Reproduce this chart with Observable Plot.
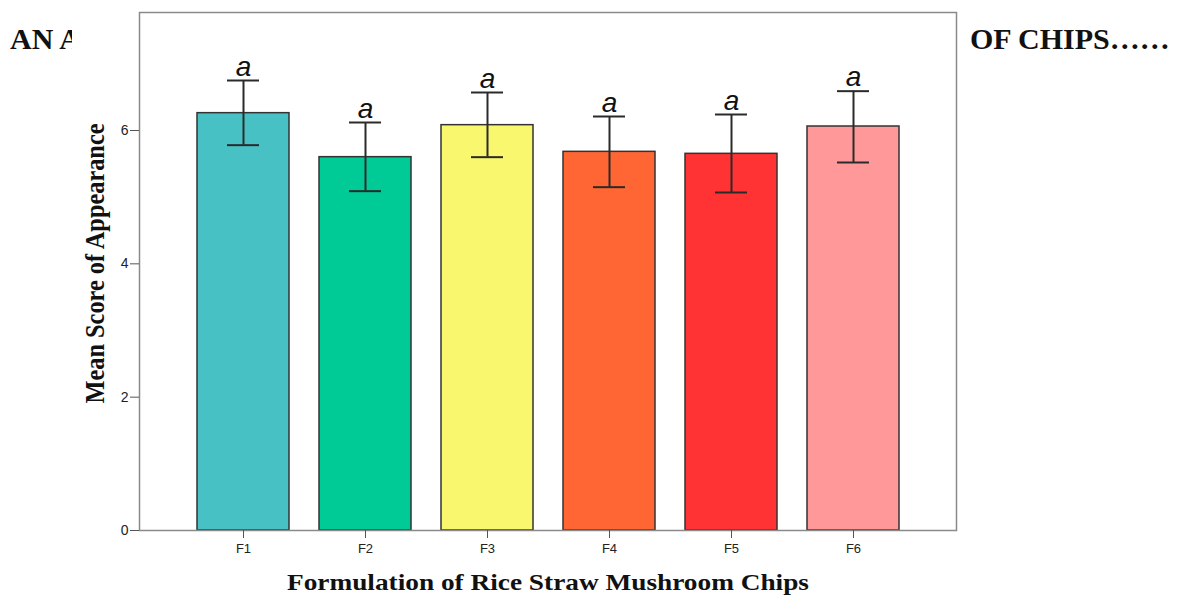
<!DOCTYPE html>
<html>
<head>
<meta charset="utf-8">
<script src="https://cdn.jsdelivr.net/npm/d3@7"></script>
<script src="https://cdn.jsdelivr.net/npm/@observablehq/plot@0.6"></script>
<style>
  html, body { margin: 0; padding: 0; background: #fff; }
  body { width: 1181px; height: 596px; position: relative; overflow: hidden; }
  .hdr { position: absolute; font-family: "Liberation Serif", "Times New Roman", serif; font-weight: bold;
         font-size: 30px; line-height: 30px; color: #111; white-space: nowrap; }
  #hdrLeft { width: 62px; overflow: hidden; }
  #chart { position: absolute; left: 72px; top: 0; background: #fff; }
</style>
</head>
<body>
<div class="hdr" id="hdrLeft" style="left:10px; top:24px;">AN A</div>
<div class="hdr" style="left:970px; top:24px;">OF CHIPS……</div>
<div id="chart"></div>
<script>
const formulations = ["F1", "F2", "F3", "F4", "F5", "F6"];
const means = [6.26, 5.60, 6.08, 5.68, 5.65, 6.06];
const lowerCI = [5.78, 5.09, 5.60, 5.15, 5.07, 5.52];
const upperCI = [6.75, 6.12, 6.57, 6.21, 6.24, 6.59];
const letters = ["a", "a", "a", "a", "a", "a"];
const barColors = ["#48C1C5", "#00CA96", "#F9F76E", "#FF6633", "#FF3333", "#FF9999"];
const yTicks = [0, 2, 4, 6];
const xTitle = "Formulation of Rice Straw Mushroom Chips";
const yTitle = "Mean Score of Appearance";

const data = formulations.map((f, i) => ({
  f, mean: means[i], lo: lowerCI[i], hi: upperCI[i], letter: letters[i]
}));

const serif = "Liberation Serif, Times New Roman, serif";
const sans = "Liberation Sans, Arial, sans-serif";

const chart = Plot.plot({
  width: 896,
  height: 596,
  marginLeft: 67,
  marginRight: 12,
  marginTop: 12,
  marginBottom: 66,
  x: { domain: formulations, paddingInner: 0.25, paddingOuter: 0.465, label: null },
  y: { domain: [0, 7.77], label: null },
  color: { domain: formulations, range: barColors },
  style: { background: "#fff", fontFamily: sans, color: "#222" },
  marks: [
    Plot.barY(data, { x: "f", y: "mean", fill: "f", stroke: "#333", strokeWidth: 1.5 }),
    Plot.ruleX(data, { x: "f", y1: "lo", y2: "hi", stroke: "#2a2a2a", strokeWidth: 2 }),
    Plot.tickY(data, { x: "f", y: "lo", stroke: "#2a2a2a", strokeWidth: 2, insetLeft: 30, insetRight: 30 }),
    Plot.tickY(data, { x: "f", y: "hi", stroke: "#2a2a2a", strokeWidth: 2, insetLeft: 30, insetRight: 30 }),
    Plot.text(data, { x: "f", y: "hi", text: "letter", lineAnchor: "bottom", dy: -5,
                      fontSize: 28, fontStyle: "italic", fill: "#111", fontFamily: sans }),
    Plot.frame({ stroke: "#8a8a8a", strokeWidth: 1.5 }),
    Plot.axisY({ ticks: yTicks, tickSize: 9, tickPadding: 2, fontSize: 14, label: null, stroke: "#555" }),
    Plot.axisX({ tickSize: 8, tickPadding: 5, fontSize: 13, label: null, stroke: "#555" }),
    Plot.text([xTitle], { frameAnchor: "bottom", lineAnchor: "bottom", dy: 59, fontSize: 24,
                          fontWeight: "bold", fontFamily: serif, fill: "#111" }),
    Plot.text([yTitle], { frameAnchor: "left", textAnchor: "middle", lineAnchor: "bottom", rotate: -90,
                          dx: -36, dy: -8, fontSize: 27, fontWeight: "bold", fontFamily: serif,
                          fill: "#111" })
  ]
});

// stretch the axis titles like the (horizontally scaled) original image
d3.select(chart).selectAll("text").each(function () {
  const t = this.textContent;
  if (t === xTitle) d3.select(this).attr("textLength", 522).attr("lengthAdjust", "spacingAndGlyphs");
  if (t === yTitle) d3.select(this).attr("textLength", 280).attr("lengthAdjust", "spacingAndGlyphs");
});

document.getElementById("chart").appendChild(chart);
</script>
</body>
</html>
